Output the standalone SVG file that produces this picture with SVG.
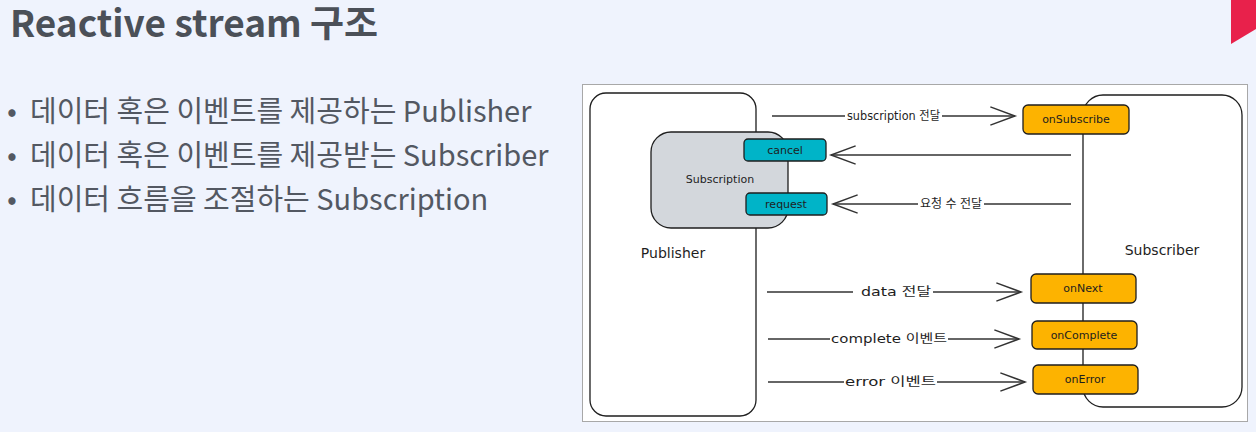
<svg xmlns="http://www.w3.org/2000/svg" width="1256" height="432" viewBox="0 0 1256 432">
<defs>
<style>
.title{font-family:"Noto Sans CJK KR","Noto Sans",sans-serif;font-weight:700;font-size:37px;fill:#4b5058}
.bul{font-family:"Noto Sans CJK KR","Noto Sans",sans-serif;font-size:29px;fill:#535862}
.box{fill:#fff;stroke:#1e1e1e;stroke-width:1.3}
.sub{fill:#d3d7dc;stroke:#1e1e1e;stroke-width:1.3}
.teal{fill:#00b4c8;stroke:#1e1e1e;stroke-width:1.3}
.orange{fill:#fdb300;stroke:#1e1e1e;stroke-width:1.3}
.lbl{font-family:"DejaVu Sans","Noto Sans CJK KR",sans-serif;font-size:11px;fill:#1e1e1e;text-anchor:middle}
.big{font-family:"DejaVu Sans","Noto Sans CJK KR",sans-serif;font-size:14px;fill:#1e1e1e;text-anchor:middle}
.elbl{font-family:"DejaVu Sans","Noto Sans CJK KR",sans-serif;font-size:12px;fill:#1e1e1e}
.ln{fill:none;stroke:#333;stroke-width:1.4}
</style>
<marker id="ah" markerUnits="userSpaceOnUse" markerWidth="30" markerHeight="22" viewBox="-24 -10 28 20" refX="0" refY="0" orient="auto">
<path d="M-23,-8.5 L0,0 L-23,8.5" fill="none" stroke="#333" stroke-width="1.4"/>
</marker>
</defs>
<rect width="1256" height="432" fill="#eff3fd"/>
<polygon points="1231,0 1256,0 1256,29 1231,44" fill="#e8214b"/>
<g id="title"><text class="title" x="10" y="37">Reactive stream 구조</text></g>
<g id="bullets">
<text class="bul" x="7" y="122">•</text>
<text class="bul" x="30" y="122">데이터 혹은 이벤트를 제공하는 Publisher</text>
<text class="bul" x="7" y="166">•</text>
<text class="bul" x="30" y="166">데이터 혹은 이벤트를 제공받는 Subscriber</text>
<text class="bul" x="7" y="210">•</text>
<text class="bul" x="30" y="210">데이터 흐름을 조절하는 Subscription</text>
</g>
<rect x="582.5" y="84.5" width="665" height="337" fill="#fff" stroke="#a8a8a8" stroke-width="1"/>
<g id="publisher">
<rect class="box" x="590" y="93" width="166" height="323" rx="16"/>
<text class="big" x="673" y="258">Publisher</text>
</g>
<g id="subscriber">
<rect class="box" x="1083" y="95" width="159" height="312" rx="20"/>
<text class="big" x="1162" y="255">Subscriber</text>
</g>
<g id="subscription">
<rect class="sub" x="651" y="132" width="137" height="96" rx="20"/>
<text class="lbl" x="720" y="183">Subscription</text>
</g>
<g id="cancel">
<rect class="teal" x="744" y="139" width="82" height="22" rx="4"/>
<text class="lbl" x="785" y="154">cancel</text>
</g>
<g id="request">
<rect class="teal" x="746" y="193" width="81" height="22" rx="4"/>
<text class="lbl" x="786" y="208">request</text>
</g>
<g id="onSubscribe">
<rect class="orange" x="1023" y="105" width="106" height="29" rx="5"/>
<text class="lbl" x="1076" y="123">onSubscribe</text>
</g>
<g id="onNext">
<rect class="orange" x="1031" y="274" width="105" height="29" rx="5"/>
<text class="lbl" x="1083" y="292">onNext</text>
</g>
<g id="onComplete">
<rect class="orange" x="1032" y="321" width="105" height="28" rx="5"/>
<text class="lbl" x="1084" y="339">onComplete</text>
</g>
<g id="onError">
<rect class="orange" x="1033" y="365" width="105" height="29" rx="5"/>
<text class="lbl" x="1085" y="383">onError</text>
</g>
<g id="connectors">
<line class="ln" x1="772" y1="116" x2="845" y2="116"/>
<line class="ln" x1="942" y1="116" x2="1015" y2="116" marker-end="url(#ah)"/>
<text class="elbl" x="847" y="120" textLength="93" lengthAdjust="spacingAndGlyphs">subscription 전달</text>
<line class="ln" x1="1071" y1="155" x2="831" y2="155" marker-end="url(#ah)"/>
<line class="ln" x1="1071" y1="204" x2="984" y2="204"/>
<line class="ln" x1="918" y1="204" x2="833" y2="204" marker-end="url(#ah)"/>
<text class="elbl" x="920" y="208" textLength="62" lengthAdjust="spacing">요청 수 전달</text>
<line class="ln" x1="767" y1="292" x2="853" y2="292"/>
<line class="ln" x1="933" y1="292" x2="1021" y2="292" marker-end="url(#ah)"/>
<text class="elbl" x="861" y="296" textLength="70" lengthAdjust="spacingAndGlyphs">data 전달</text>
<line class="ln" x1="768" y1="339" x2="830" y2="339"/>
<line class="ln" x1="948" y1="339" x2="1019" y2="339" marker-end="url(#ah)"/>
<text class="elbl" x="831" y="343" textLength="116" lengthAdjust="spacingAndGlyphs">complete 이벤트</text>
<line class="ln" x1="768" y1="382" x2="844" y2="382"/>
<line class="ln" x1="937" y1="382" x2="1025" y2="382" marker-end="url(#ah)"/>
<text class="elbl" x="845" y="386" textLength="91" lengthAdjust="spacingAndGlyphs">error 이벤트</text>
</g>
</svg>
